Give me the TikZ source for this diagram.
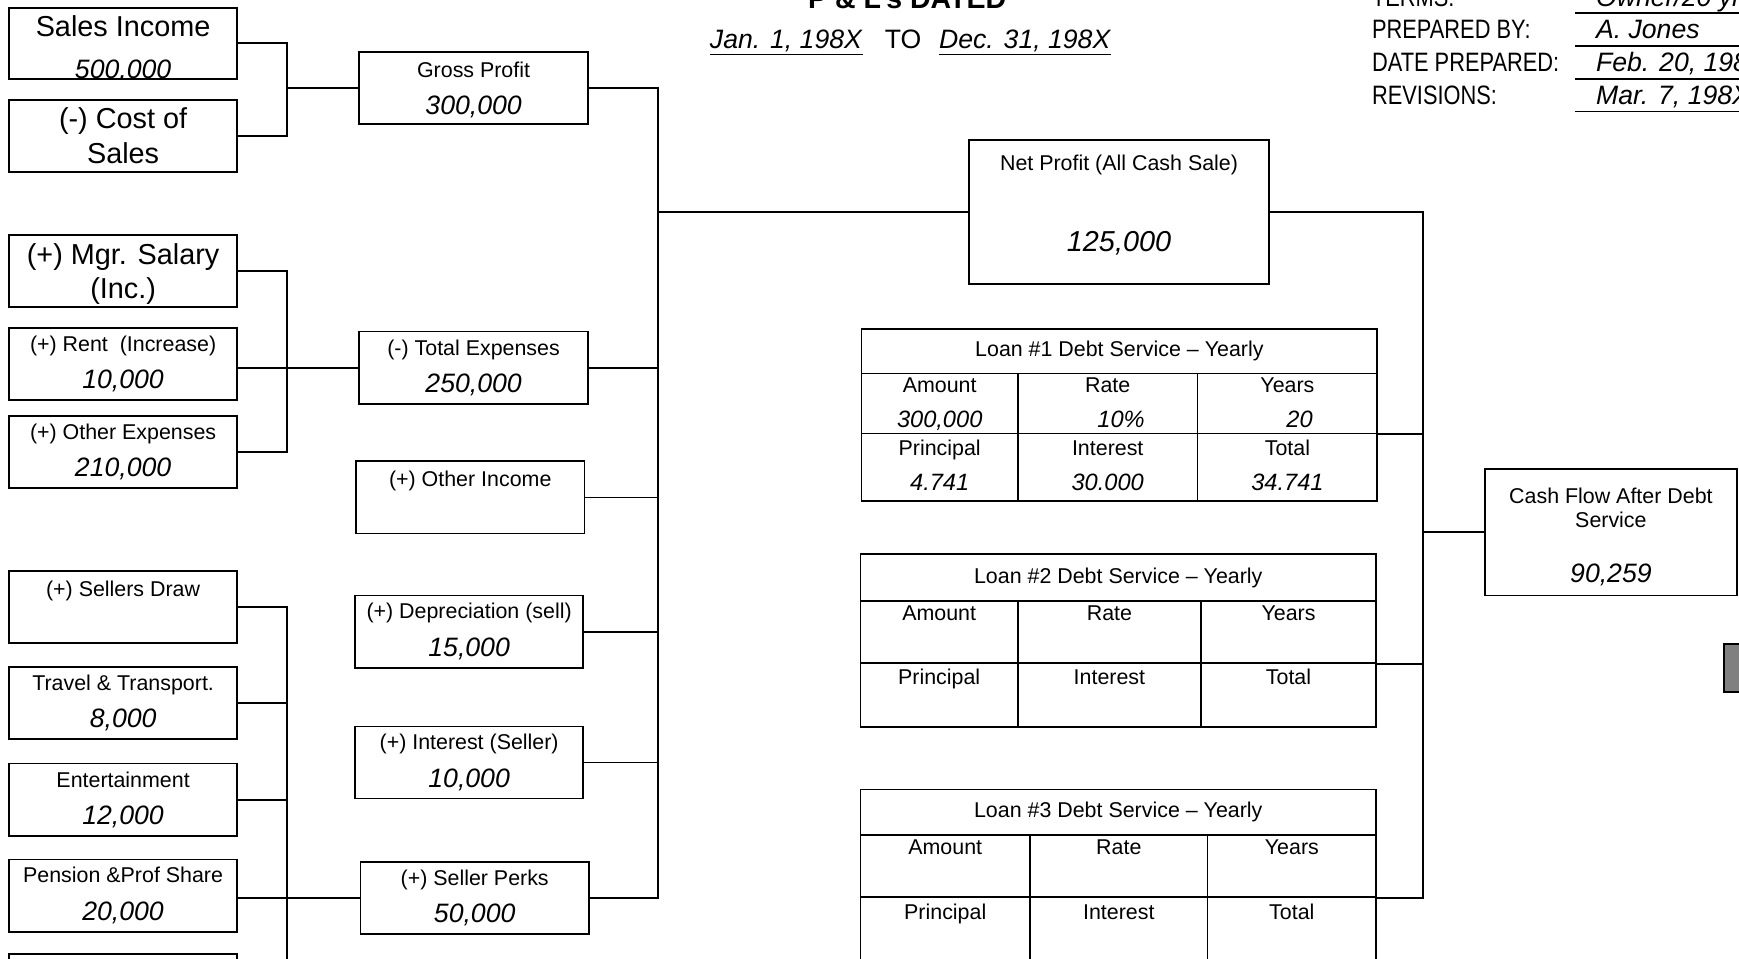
\documentclass[tikz,border=0pt]{standalone}
\usepackage{fontspec}
\setmainfont{Liberation Sans}
\newfontfamily\narrowfont[FakeStretch=0.82]{Liberation Sans}
\usetikzlibrary{positioning}

\newcommand\sml{\fontsize{19.3}{33.7}\selectfont}
\newcommand\lrg{\fontsize{26}{31}\selectfont}
\newcommand\amt{\fontsize{24}{28}\selectfont\itshape}
\newcommand\tnum{\fontsize{21.3}{25}\selectfont\itshape}
\newcommand\tbl{\fontsize{19.3}{31.8}\selectfont}

\begin{document}
\begin{tikzpicture}[x=1pt, y=-1pt, line width=1.6pt]
  \tikzset{
    box/.style={draw, align=center, minimum width=206pt, minimum height=65pt, inner sep=0pt, font=\sml},
    cell/.style={draw, align=center, anchor=north west, inner sep=0pt, font=\tbl, text height=14pt, text depth=34pt},
    loanhead/.style={draw, anchor=north west, minimum width=465pt, inner sep=0pt, font=\tbl}
  }
  \useasboundingbox (0,0) rectangle (1568,864);
  \clip (0,0) rectangle (1568,864);

  % heading
  \node[font=\fontsize{25.7}{30}\selectfont\bfseries, anchor=base] (title) at (818,8) {P \& L's DATED};
  \node[font=\fontsize{24}{28}\selectfont, anchor=base] (dates) at (821,44) {\underline{\textit{Jan. 1, 198X}}\hspace{20pt}TO\hspace{16pt}\underline{\textit{Dec. 31, 198X}}};

  \node[font={\fontsize{24}{28}\narrowfont}, anchor=base west] (terms) at (1233,5.5) {TERMS:};
  \node[font=\amt, anchor=base west] (termsv) at (1435,5.5) {Owner/20 yrs};
  \node[font={\fontsize{24}{28}\narrowfont}, anchor=base west] (prep) at (1233,35) {PREPARED BY:};
  \node[font=\amt, anchor=base west] (prepv) at (1435,35) {A. Jones};
  \node[font={\fontsize{24}{28}\narrowfont}, anchor=base west] (datep) at (1233,64.5) {DATE PREPARED:};
  \node[font=\amt, anchor=base west] (datepv) at (1435,64.5) {Feb. 20, 198X};
  \node[font={\fontsize{24}{28}\narrowfont}, anchor=base west] (revs) at (1233,94) {REVISIONS:};
  \node[font=\amt, anchor=base west] (revsv) at (1435,94) {Mar. 7, 198X};
  \draw ([xshift=-15pt,yshift=-6.5pt]termsv.base west) -- ++(200,0);
  \draw ([xshift=-15pt,yshift=-6.5pt]prepv.base west) -- ++(200,0);
  \draw ([xshift=-15pt,yshift=-6.5pt]datepv.base west) -- ++(200,0);
  \draw ([xshift=-15pt,yshift=-6.5pt]revsv.base west) -- ++(200,0);

  % left column
  \node[box, minimum height=64pt] (sales) at (111,39) {};
  \begin{scope}
    \clip (sales.north west) rectangle (sales.south east);
    \node[font=\lrg] (salesl) at (111,24) {Sales Income};
    \node[font=\amt] (salesv) at (111,64) {500,000};
  \end{scope}
  \node[box, font=\lrg] (cost) at (111,122.5) {(-) Cost of\\Sales};
  \node[box, font=\lrg, text depth=0pt] (mgr) at (111,244.5) {(+) Mgr. Salary\\(Inc.)};
  \node[box] (rent) at (111,328) {(+) Rent\ \ (Increase)\\\amt 10,000};
  \node[box] (oexp) at (111,407.5) {(+) Other Expenses\\\amt 210,000};
  \node[box] (sdraw) at (111,547.5) {(+) Sellers Draw\\\mbox{}};
  \node[box] (travel) at (111,634) {Travel \& Transport.\\\amt 8,000};
  \node[box] (ent) at (111,721) {Entertainment\\\amt 12,000};
  \node[box] (pens) at (111,807.5) {Pension \&Prof Share\\\amt 20,000};
  \node[box] (lastbox) at (111,892.5) {};

  % middle column
  \node[box, text depth=0pt] (gp) at (427,79.5) {Gross Profit\\\amt 300,000};
  \node[box] (tex) at (427,331.5) {(-) Total Expenses\\\amt 250,000};
  \node[box] (oinc) at (424,448.5) {(+) Other Income\\\mbox{}};
  \node[box] (dep) at (423,569.5) {(+) Depreciation (sell)\\\amt 15,000};
  \node[box] (intr) at (423,687.5) {(+) Interest (Seller)\\\amt 10,000};
  \node[box] (perks) at (428,809.5) {(+) Seller Perks\\\amt 50,000};

  \node[box, minimum width=270pt, minimum height=130pt, text depth=15.5pt] (net) at (1009,191) {Net Profit (All Cash Sale)\\[38.8pt]{\fontsize{26}{30}\selectfont\itshape 125,000}};

  % loan tables
  \node[loanhead, minimum height=40pt] (l1head) at (776,296) {Loan \#1 Debt Service -- Yearly};
  \node[cell, minimum width=141pt, minimum height=54pt, text height=48.5pt, text depth=5pt] (l1amt) at (776,336) {Amount\\\tnum 300,000};
  \node[cell, minimum width=162pt, minimum height=54pt, text height=48.5pt, text depth=5pt] (l1rate) at (917,336) {Rate\\\tnum\hspace*{24pt}10\%};
  \node[cell, minimum width=162pt, minimum height=54pt, text height=48.5pt, text depth=5pt] (l1yrs) at (1079,336) {Years\\\tnum\hspace*{22pt}20};
  \node[cell, minimum width=141pt, minimum height=61pt, text height=47pt, text depth=5pt] (l1prin) at (776,390) {Principal\\\tnum 4.741};
  \node[cell, minimum width=162pt, minimum height=61pt, text height=47pt, text depth=5pt] (l1int) at (917,390) {Interest\\\tnum 30.000};
  \node[cell, minimum width=162pt, minimum height=61pt, text height=47pt, text depth=5pt] (l1tot) at (1079,390) {Total\\\tnum 34.741};

  \node[loanhead, minimum height=42pt] (l2head) at (775,499) {Loan \#2 Debt Service -- Yearly};
  \node[cell, minimum width=142pt, minimum height=56pt] (l2amt) at (775,541) {Amount};
  \node[cell, minimum width=165pt, minimum height=56pt] (l2rate) at (917,541) {Rate};
  \node[cell, minimum width=158pt, minimum height=56pt] (l2yrs) at (1082,541) {Years};
  \node[cell, minimum width=142pt, minimum height=58pt] (l2prin) at (775,597) {Principal};
  \node[cell, minimum width=165pt, minimum height=58pt] (l2int) at (917,597) {Interest};
  \node[cell, minimum width=158pt, minimum height=58pt] (l2tot) at (1082,597) {Total};

  \node[loanhead, minimum height=41pt] (l3head) at (775,711) {Loan \#3 Debt Service -- Yearly};
  \node[cell, minimum width=153pt, minimum height=56pt] (l3amt) at (775,752) {Amount};
  \node[cell, minimum width=160pt, minimum height=56pt] (l3rate) at (928,752) {Rate};
  \node[cell, minimum width=152pt, minimum height=56pt] (l3yrs) at (1088,752) {Years};
  \node[cell, minimum width=153pt, minimum height=60pt] (l3prin) at (775,808) {Principal};
  \node[cell, minimum width=160pt, minimum height=60pt] (l3int) at (928,808) {Interest};
  \node[cell, minimum width=152pt, minimum height=60pt] (l3tot) at (1088,808) {Total};

  \node[box, minimum width=227pt, minimum height=114pt, text height=94pt] (cash) at (1452.5,480) {Cash Flow After Debt\\[-11.7pt]Service\\[15.9pt]\amt 90,259};
  \node[draw, fill=gray, minimum width=30pt, minimum height=43pt, inner sep=0pt, anchor=north west] (btn) at (1554,580) {};

  % junction columns
  \coordinate (jl) at (259,0);
  \coordinate (jm) at (593,0);
  \coordinate (jr) at (1283,0);

  \draw (sales.east) -| (jl |- cost.east) -- (cost.east);
  \draw (jl |- gp.west) -- (gp.west);
  \draw (mgr.east) -| (jl |- oexp.east) -- (oexp.east);
  \draw (rent.east |- tex.west) -- (tex.west);
  \draw (sdraw.east) -| (jl |- lastbox.east) -- (lastbox.east);
  \draw (travel.east) -- (jl |- travel.east);
  \draw (ent.east) -- (jl |- ent.east);
  \draw (pens.east |- perks.west) -- (perks.west);

  \draw (gp.east) -| (jm |- perks.east) -- (perks.east);
  \draw (tex.east) -- (jm |- tex.east);
  \draw (oinc.east) -- (jm |- oinc.east);
  \draw (dep.east) -- (jm |- dep.east);
  \draw (intr.east) -- (jm |- intr.east);
  \draw (jm |- net.west) -- (net.west);

  \draw (net.east) -| (jr |- l3yrs.south east) -- (l3yrs.south east);
  \draw (l1yrs.south east) -- (jr |- l1yrs.south east);
  \draw (l2yrs.south east) -- (jr |- l2yrs.south east);
  \draw (jr |- cash.west) -- (cash.west);
\end{tikzpicture}
\end{document}
